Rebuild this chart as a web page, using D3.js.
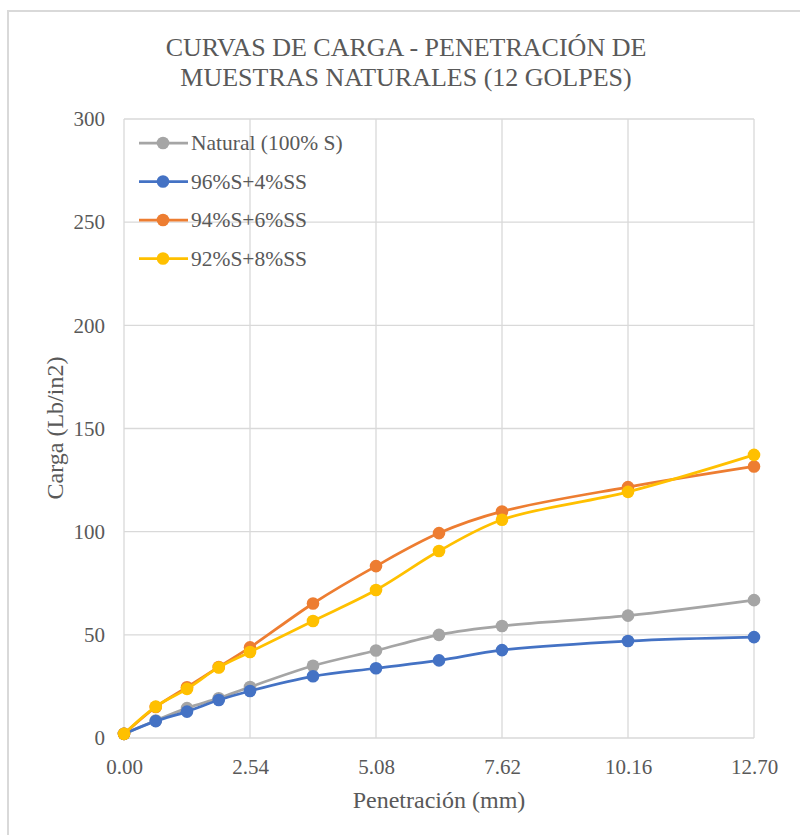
<!DOCTYPE html>
<html>
<head>
<meta charset="utf-8">
<script src="https://cdn.jsdelivr.net/npm/d3@7"></script>
<style>
  body { margin: 0; background: #fff; }
  svg { display: block; }
  svg text, svg tspan { font-family: "Liberation Serif", "Times New Roman", serif; fill: #595959; }
</style>
</head>
<body>
<svg id="chart" width="800" height="835"></svg>
<script>
const penetration = [0, 0.64, 1.27, 1.91, 2.54, 3.81, 5.08, 6.35, 7.62, 10.16, 12.70];
const seriesNames = ["Natural (100% S)", "96%S+4%SS", "94%S+6%SS", "92%S+8%SS"];
const seriesColors = ["#a5a5a5", "#4472c4", "#ed7d31", "#ffc000"];
const natural = [2, 8.5, 14.5, 19.3, 24.7, 35, 42.4, 50, 54.3, 59.3, 66.8];
const s96 = [2, 8.2, 12.8, 18.4, 22.8, 29.9, 33.8, 37.6, 42.6, 47, 48.9];
const s94 = [2, 15, 24.6, 34.4, 43.9, 65.2, 83.3, 99.3, 109.8, 121.6, 131.6];
const s92 = [2, 15.2, 23.8, 34.2, 41.7, 56.7, 71.7, 90.6, 105.8, 119.3, 137.2];
const xTicks = [0, 2.54, 5.08, 7.62, 10.16, 12.70];
const yTicks = [0, 50, 100, 150, 200, 250, 300];
const titleLines = ["CURVAS DE CARGA - PENETRACIÓN DE", "MUESTRAS NATURALES (12 GOLPES)"];
const xLabel = "Penetración (mm)";
const yLabel = "Carga (Lb/in2)";

const allSeries = [natural, s96, s94, s92];
const FONT = "'Liberation Serif', 'Times New Roman', serif";

const svg = d3.select("#chart");
const pLeft = 124, pRight = 754, pTop = 119, pBottom = 738;

// chart border
svg.append("rect").attr("x", 8).attr("y", 11).attr("width", 900).attr("height", 900)
  .attr("fill", "none").attr("stroke", "#d9d9d9").attr("stroke-width", 2);

const x = d3.scaleLinear().domain([0, 12.70]).range([pLeft, pRight]);
const y = d3.scaleLinear().domain([0, 300]).range([pBottom, pTop]);

// gridlines
const grid = svg.append("g");
grid.selectAll("line.h").data(yTicks).enter().append("line")
  .attr("x1", pLeft).attr("x2", pRight)
  .attr("y1", d => y(d)).attr("y2", d => y(d))
  .attr("stroke", "#d9d9d9").attr("stroke-width", 1.3);
grid.selectAll("line.v").data(xTicks).enter().append("line")
  .attr("y1", pTop).attr("y2", pBottom)
  .attr("x1", d => x(d)).attr("x2", d => x(d))
  .attr("stroke", "#d9d9d9").attr("stroke-width", 1.3);

// axes (labels only)
const xAxis = svg.append("g").attr("transform", `translate(0,${pBottom})`)
  .call(d3.axisBottom(x).tickValues(xTicks).tickFormat(d3.format(".2f")).tickSize(0).tickPadding(21));
xAxis.select(".domain").remove();
xAxis.selectAll("text").attr("font-size", 21).attr("font-family", FONT).attr("fill", "#595959");

const yAxis = svg.append("g").attr("transform", `translate(${pLeft},0)`)
  .call(d3.axisLeft(y).tickValues(yTicks).tickSize(0).tickPadding(19));
yAxis.select(".domain").remove();
yAxis.selectAll("text").attr("font-size", 21).attr("font-family", FONT).attr("fill", "#595959");
svg.selectAll(".tick text").style("font-family", FONT).style("font-size", "21px");

// title
svg.append("text").attr("x", 406).attr("text-anchor", "middle")
  .attr("font-family", FONT).style("font-size", "26px").attr("fill", "#595959")
  .selectAll("tspan").data(titleLines).enter().append("tspan")
  .attr("x", 406).attr("y", (d, i) => 56 + i * 30).text(d => d);

// axis titles
svg.append("text").attr("x", 439).attr("y", 808).attr("text-anchor", "middle")
  .attr("font-family", FONT).style("font-size", "24px").attr("fill", "#595959").text(xLabel);
svg.append("text").attr("transform", "translate(63,428) rotate(-90)").attr("text-anchor", "middle")
  .attr("font-family", FONT).style("font-size", "24px").attr("fill", "#595959").text(yLabel);

// lines
const line = d3.line().x(d => x(d[0])).y(d => y(d[1])).curve(d3.curveCatmullRom.alpha(0.5));
allSeries.forEach((vals, i) => {
  const pts = penetration.map((p, j) => [p, vals[j]]);
  const g = svg.append("g");
  g.append("path").datum(pts).attr("d", line).attr("fill", "none")
    .attr("stroke", seriesColors[i]).attr("stroke-width", 2.75).attr("stroke-linejoin", "round");
  g.selectAll("circle").data(pts).enter().append("circle")
    .attr("cx", d => x(d[0])).attr("cy", d => y(d[1])).attr("r", 6.3)
    .attr("fill", seriesColors[i]);
});

// legend
const legend = svg.append("g");
seriesNames.forEach((name, i) => {
  const ly = 143 + i * 38.5;
  legend.append("line").attr("x1", 139).attr("x2", 188).attr("y1", ly).attr("y2", ly)
    .attr("stroke", seriesColors[i]).attr("stroke-width", 2.75);
  legend.append("circle").attr("cx", 163).attr("cy", ly).attr("r", 6.3).attr("fill", seriesColors[i]);
  legend.append("text").attr("x", 191).attr("y", ly + 7)
    .attr("font-family", FONT).style("font-size", "21.5px").attr("fill", "#595959").text(name);
});
</script>
</body>
</html>
